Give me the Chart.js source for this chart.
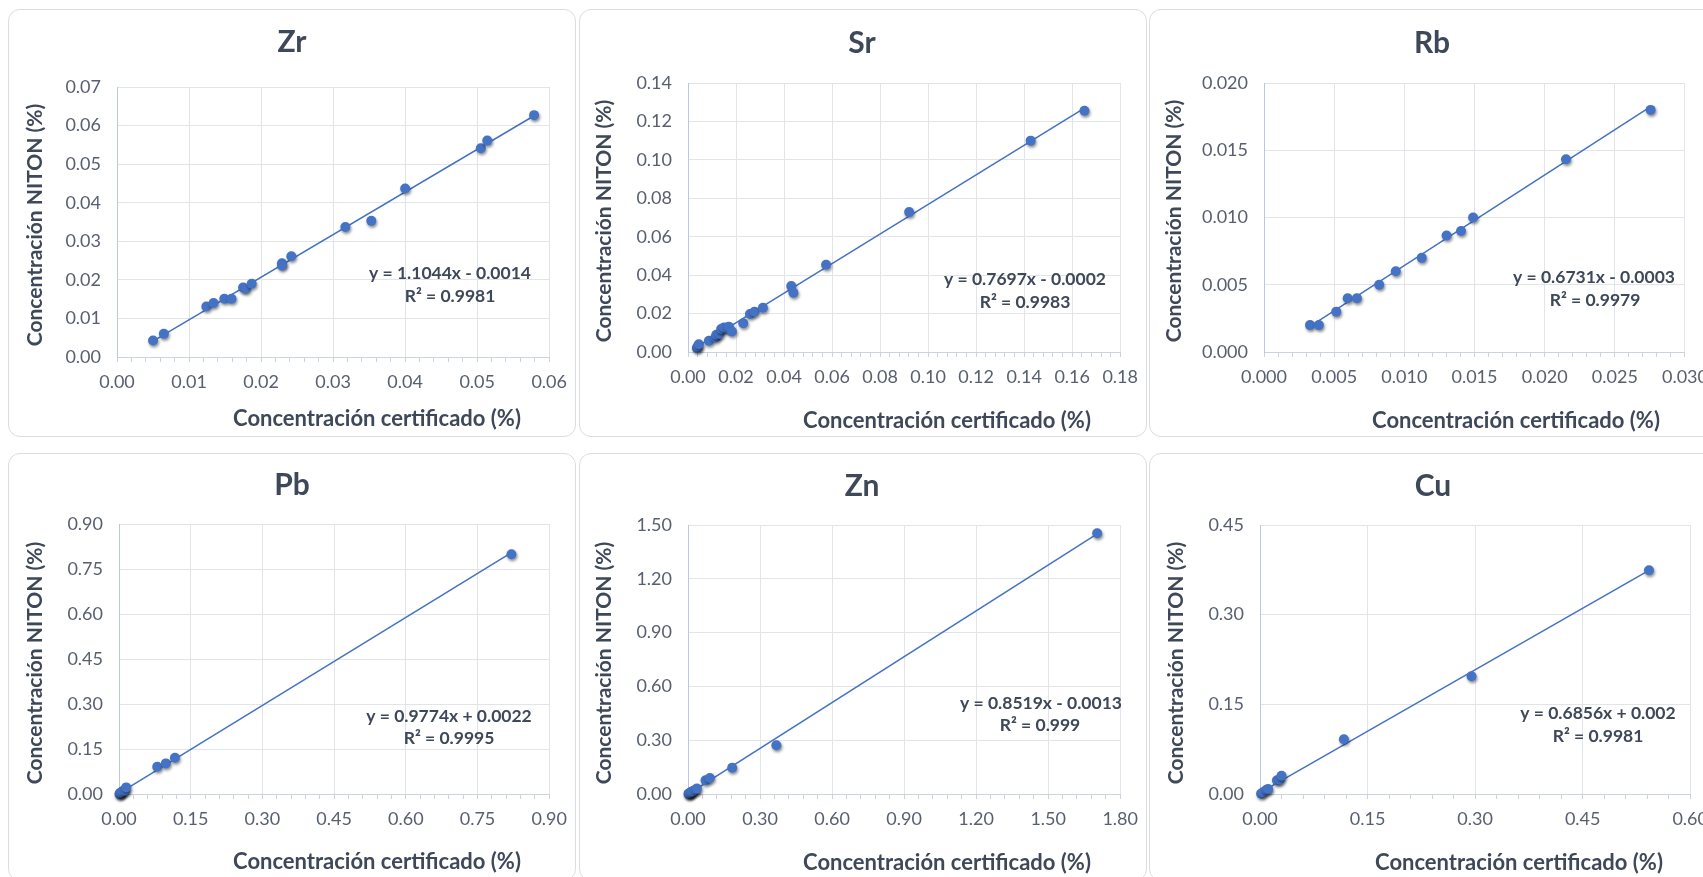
<!DOCTYPE html>
<html><head><meta charset="utf-8">
<script src="https://cdn.jsdelivr.net/npm/chart.js@4.4.1/dist/chart.umd.min.js"></script>
<style>
html,body{margin:0;padding:0;background:#fff;overflow:hidden;width:1703px;height:877px;}
#wrap{position:relative;width:1703px;height:877px;overflow:hidden;}
.panel{position:absolute;width:568px;height:428px;box-sizing:border-box;border:1px solid #DADDE3;border-radius:12px;background:#fff;}
.panel canvas{position:absolute;left:-1px;top:-1px;}
</style></head><body><div id="wrap"></div>
<script>
// ---------------- data ----------------
const elements = ['Zr','Sr','Rb','Pb','Zn','Cu'];
const xAxisTitle = 'Concentración certificado (%)';
const yAxisTitle = 'Concentración NITON (%)';

const zrX = [0.0050,0.0065,0.0124,0.0134,0.0149,0.0159,0.0175,0.0179,0.0187,0.0229,0.0229,0.0242,0.0317,0.0353,0.0400,0.0505,0.0514,0.0579];
const zrY = [0.0043,0.0060,0.0131,0.0140,0.0151,0.0151,0.0180,0.0177,0.0190,0.0243,0.0237,0.0261,0.0337,0.0353,0.0437,0.0541,0.0561,0.0627];

const srX = [0.0037,0.0040,0.0045,0.0087,0.0114,0.0118,0.0131,0.0138,0.0150,0.0165,0.0170,0.0183,0.0230,0.0258,0.0277,0.0312,0.0430,0.0439,0.0575,0.0921,0.1427,0.1651];
const srY = [0.0021,0.0029,0.0040,0.0058,0.0075,0.0090,0.0095,0.0120,0.0128,0.0122,0.0132,0.0107,0.0150,0.0198,0.0210,0.0230,0.0343,0.0308,0.0454,0.0728,0.1100,0.1256];

const rbX = [0.00328,0.00391,0.00515,0.00596,0.00662,0.00821,0.00939,0.01124,0.01301,0.01404,0.01490,0.02152,0.02755];
const rbY = [0.00200,0.00200,0.00300,0.00400,0.00400,0.00500,0.00600,0.00700,0.00866,0.00900,0.01000,0.01433,0.01800];

const pbX = [0.001,0.002,0.003,0.005,0.008,0.013,0.015,0.080,0.098,0.117,0.821];
const pbY = [0.000,0.002,0.004,0.006,0.010,0.012,0.022,0.091,0.102,0.121,0.799];

const znX = [0.002,0.004,0.006,0.010,0.015,0.020,0.030,0.037,0.073,0.091,0.184,0.368,1.704];
const znY = [0.001,0.003,0.004,0.008,0.012,0.016,0.024,0.030,0.076,0.089,0.146,0.272,1.454];

const cuX = [0.0015,0.0040,0.0089,0.0113,0.0236,0.0275,0.0300,0.1170,0.2950,0.5425];
const cuY = [0.0006,0.0030,0.0072,0.0083,0.0228,0.0240,0.0306,0.0917,0.1970,0.3744];

const slopes = [1.1044,0.7697,0.6731,0.9774,0.8519,0.6856];
const intercepts = [-0.0014,-0.0002,-0.0003,0.0022,-0.0013,0.002];
const eqTexts = ['y = 1.1044x - 0.0014','y = 0.7697x - 0.0002','y = 0.6731x - 0.0003','y = 0.9774x + 0.0022','y = 0.8519x - 0.0013','y = 0.6856x + 0.002'];
const r2Texts = ['R² = 0.9981','R² = 0.9983','R² = 0.9979','R² = 0.9995','R² = 0.999','R² = 0.9981'];

// axis settings (tick labels)
const xMax  = [0.06,0.18,0.030,0.90,1.80,0.60];
const xStep = [0.01,0.02,0.005,0.15,0.30,0.15];
const yMax  = [0.07,0.14,0.020,0.90,1.50,0.45];
const yStep = [0.01,0.02,0.005,0.15,0.30,0.15];
const tickDecimals = [2,2,3,2,2,2];

const seriesX = [zrX,srX,rbX,pbX,znX,cuX];
const seriesY = [zrY,srY,rbY,pbY,znY,cuY];

// ---------------- layout (positions only) ----------------
const FONT = "Lato, 'Open Sans', sans-serif";
const DARK = '#3E4858';
const TICKC = '#586070';
const GRID = '#E1E5EB';
const XAXIS = '#CDD3DC';
const YAXIS = '#B8C8E2';
const BLUE = '#4472C4';
const W = 568, H = 428;
const layouts = [
  {left:8,   top:9,   area:[109,78,542,348], title:[284,33], xt:[369,410], yt:[27,216], eq:[442,264], r2:[442,287]},
  {left:579, top:9,   area:[109,74,542,343], title:[283,34], xt:[368,412], yt:[25,212], eq:[446,270], r2:[446,293]},
  {left:1149,top:9,   area:[115,74,537,343], title:[283,34], xt:[367,412], yt:[25,212], eq:[445,268], r2:[446,291]},
  {left:8,   top:453, area:[111,71,543,341], title:[284,32], xt:[369,409], yt:[27,210], eq:[441,263], r2:[441,285]},
  {left:579, top:453, area:[109,72,542,341], title:[283,33], xt:[368,410], yt:[25,210], eq:[462,250], r2:[461,272]},
  {left:1149,top:453, area:[111,72,545,341], title:[284,33], xt:[370,410], yt:[27,210], eq:[449,260], r2:[449,283]}
];

const textPlugin = {
  id:'panelText',
  afterDraw(chart, args, o){
    const c = chart.ctx; c.save();
    c.fillStyle = DARK; c.textAlign='center'; c.textBaseline='middle';
    c.font = `bold 30px ${FONT}`; c.fillText(o.title, o.titlePos[0], o.titlePos[1]);
    c.font = `bold 22px ${FONT}`; c.fillText(xAxisTitle, o.xt[0], o.xt[1]);
    c.font = `bold 21px ${FONT}`;
    c.save(); c.translate(o.yt[0], o.yt[1]); c.rotate(-Math.PI/2); c.fillText(yAxisTitle,0,0); c.restore();
    c.font = `bold 17.5px ${FONT}`;
    c.fillText(o.eq, o.eqPos[0], o.eqPos[1]);
    c.fillText(o.r2, o.r2Pos[0], o.r2Pos[1]);
    c.restore();
  }
};
const shadowPlugin = {
  id:'pointShadow',
  beforeDatasetDraw(chart, args){
    if (args.index === 0){ const c = chart.ctx; c.save(); c.shadowColor='rgba(0,0,0,0.45)'; c.shadowBlur=3; c.shadowOffsetX=1; c.shadowOffsetY=2; }
  },
  afterDatasetDraw(chart, args){ if (args.index === 0) chart.ctx.restore(); }
};

const wrap = document.getElementById('wrap');
elements.forEach((el, i) => {
  const L = layouts[i];
  const div = document.createElement('div');
  div.className = 'panel'; div.style.left = L.left+'px'; div.style.top = L.top+'px';
  const cv = document.createElement('canvas'); cv.width = W; cv.height = H;
  cv.style.width = W+'px'; cv.style.height = H+'px';
  div.appendChild(cv); wrap.appendChild(div);

  const xs = seriesX[i], ys = seriesY[i];
  const pts = xs.map((x, k) => ({x, y: ys[k]}));
  const xmin = Math.min(...xs), xmaxD = Math.max(...xs);
  const trend = [{x:xmin, y:slopes[i]*xmin+intercepts[i]}, {x:xmaxD, y:slopes[i]*xmaxD+intercepts[i]}];
  const dec = tickDecimals[i];
  const [aL, aT, aR, aB] = L.area;

  new Chart(cv, {
    type:'scatter',
    data:{ datasets:[
      {data:pts, backgroundColor:BLUE, borderColor:BLUE, pointRadius:5, pointHoverRadius:5, borderWidth:0, order:0, clip:false},
      {data:trend, showLine:true, borderColor:BLUE, borderWidth:1.5, pointRadius:0, order:1}
    ]},
    options:{
      responsive:false, animation:false, devicePixelRatio:1,
      layout:{padding:{left:0, top:aT, right:W-aR, bottom:0}},
      plugins:{legend:{display:false}, tooltip:{enabled:false},
        panelText:{title:el, titlePos:L.title, xt:L.xt, yt:L.yt, eq:eqTexts[i], r2:r2Texts[i], eqPos:L.eq, r2Pos:L.r2}},
      scales:{
        x:{type:'linear', min:0, max:xMax[i],
          ticks:{stepSize:xStep[i]/5, autoSkip:false, maxRotation:0, minRotation:0, padding:9, color:TICKC,
            font:{family:FONT, size:18}, callback:(v, k) => (k % 5 === 0 ? Number(v).toFixed(dec) : '')},
          grid:{color:(c) => (c.index % 5 === 0 ? GRID : 'rgba(0,0,0,0)'), tickColor:XAXIS, tickLength:5, lineWidth:1},
          border:{color:XAXIS, width:1},
          afterFit:(s) => { s.height = H - aB; }
        },
        y:{type:'linear', min:0, max:yMax[i],
          ticks:{stepSize:yStep[i], padding:16, color:TICKC, font:{family:FONT, size:18},
            callback:(v) => Number(v).toFixed(dec)},
          grid:{color:GRID, drawTicks:false, lineWidth:1},
          border:{color:YAXIS, width:1},
          afterFit:(s) => { s.width = aL; }
        }
      }
    },
    plugins:[textPlugin, shadowPlugin]
  });
});
</script></body></html>
